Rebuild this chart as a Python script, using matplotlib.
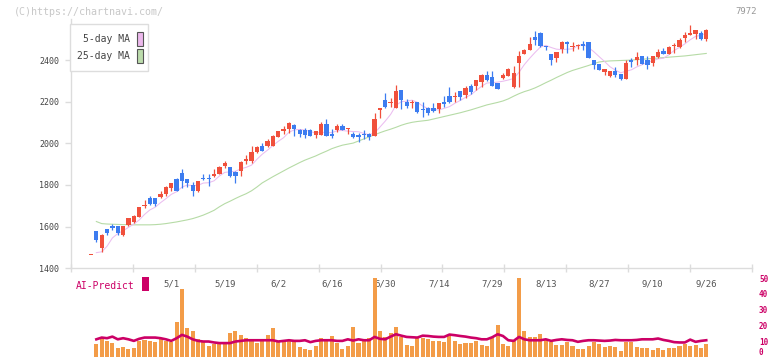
import numpy as np
import pandas as pd
import matplotlib
matplotlib.use("Agg")
import matplotlib.pyplot as plt
from matplotlib.patches import Rectangle

plt.rcParams['font.family'] = ['DejaVu Sans Mono', 'DejaVu Sans']

# ---------------- data ----------------
opens = [1465, 1576, 1495, 1586, 1603, 1600, 1557, 1608, 1624, 1645,
         1698, 1735, 1735, 1741, 1756, 1785, 1828, 1860, 1831, 1802,
         1769, 1836, 1836, 1841, 1855, 1891, 1889, 1865, 1866, 1918,
         1915, 1957, 1990, 1986, 1986, 2029, 2061, 2071, 2087, 2067,
         2066, 2066, 2042, 2042, 2096, 2047, 2063, 2082, 2071, 2048,
         2039, 2045, 2048, 2035, 2161, 2208, 2196, 2173, 2260, 2198,
         2196, 2198, 2165, 2171, 2171, 2164, 2202, 2231, 2222, 2255,
         2236, 2277, 2278, 2296, 2328, 2320, 2292, 2315, 2325, 2271,
         2387, 2432, 2452, 2511, 2531, 2472, 2429, 2411, 2455, 2488,
         2464, 2469, 2480, 2487, 2400, 2385, 2344, 2324, 2348, 2337,
         2313, 2402, 2400, 2421, 2400, 2389, 2417, 2448, 2433, 2469,
         2465, 2507, 2525, 2527, 2531, 2506]
highs = [1465, 1576, 1566, 1589, 1611, 1600, 1600, 1643, 1656, 1692,
         1729, 1748, 1735, 1772, 1793, 1809, 1833, 1879, 1831, 1815,
         1820, 1855, 1854, 1878, 1893, 1918, 1889, 1868, 1917, 1945,
         1987, 1990, 2001, 2023, 2043, 2058, 2083, 2106, 2093, 2071,
         2074, 2071, 2058, 2103, 2119, 2071, 2092, 2092, 2077, 2054,
         2050, 2063, 2051, 2146, 2169, 2244, 2218, 2283, 2260, 2215,
         2209, 2198, 2199, 2176, 2196, 2193, 2228, 2270, 2246, 2255,
         2278, 2285, 2308, 2336, 2347, 2347, 2292, 2339, 2363, 2375,
         2447, 2456, 2511, 2540, 2536, 2472, 2429, 2439, 2495, 2495,
         2488, 2480, 2493, 2487, 2403, 2385, 2361, 2348, 2370, 2337,
         2403, 2414, 2443, 2421, 2422, 2422, 2457, 2462, 2472, 2485,
         2510, 2539, 2573, 2549, 2544, 2554]
lows = [1465, 1523, 1475, 1561, 1584, 1558, 1553, 1601, 1618, 1645,
        1688, 1705, 1701, 1736, 1749, 1773, 1773, 1785, 1790, 1749,
        1765, 1822, 1793, 1838, 1851, 1881, 1837, 1809, 1842, 1900,
        1907, 1953, 1966, 1982, 1986, 2029, 2047, 2052, 2035, 2030,
        2027, 2035, 2027, 2042, 2038, 2026, 2054, 2063, 2047, 2026,
        2006, 2023, 2016, 2035, 2125, 2169, 2175, 2170, 2166, 2171,
        2171, 2146, 2127, 2137, 2151, 2145, 2175, 2196, 2200, 2212,
        2219, 2239, 2260, 2270, 2302, 2275, 2265, 2312, 2325, 2266,
        2271, 2429, 2452, 2477, 2467, 2453, 2377, 2392, 2434, 2437,
        2448, 2456, 2453, 2411, 2358, 2353, 2329, 2319, 2319, 2308,
        2313, 2368, 2376, 2382, 2359, 2373, 2412, 2429, 2433, 2438,
        2462, 2487, 2525, 2503, 2500, 2493]
closes = [1465, 1533, 1561, 1571, 1594, 1571, 1600, 1643, 1650, 1692,
          1705, 1709, 1709, 1759, 1788, 1809, 1773, 1820, 1809, 1773,
          1817, 1828, 1828, 1855, 1889, 1904, 1842, 1842, 1913, 1924,
          1957, 1981, 1966, 2013, 2034, 2058, 2069, 2098, 2069, 2045,
          2042, 2035, 2058, 2092, 2038, 2038, 2082, 2063, 2077, 2029,
          2032, 2042, 2032, 2120, 2169, 2177, 2202, 2251, 2209, 2180,
          2202, 2151, 2160, 2149, 2156, 2193, 2188, 2202, 2229, 2224,
          2268, 2250, 2308, 2328, 2304, 2275, 2265, 2328, 2358, 2340,
          2424, 2452, 2480, 2498, 2471, 2464, 2401, 2439, 2488, 2480,
          2472, 2477, 2472, 2411, 2378, 2353, 2361, 2348, 2329, 2313,
          2390, 2395, 2418, 2382, 2376, 2422, 2441, 2433, 2467, 2477,
          2500, 2524, 2531, 2549, 2503, 2549]

# first values of the 5-day MA (earlier closes are not on the chart)
ma5_head = [np.nan, 1474, 1478, 1505]

ma25 = [np.nan, 1624, 1614, 1612, 1611, 1610, 1609, 1609, 1608, 1608,
        1608, 1608, 1609, 1611, 1614, 1618, 1622, 1627, 1632, 1638,
        1646, 1655, 1666, 1678, 1695, 1710, 1722, 1735, 1747, 1758,
        1772, 1790, 1810, 1825, 1840, 1854, 1868, 1882, 1895, 1908,
        1920, 1930, 1940, 1952, 1963, 1975, 1984, 1992, 1997, 2002,
        2012, 2022, 2032, 2042, 2052, 2061, 2069, 2078, 2088, 2096,
        2102, 2106, 2109, 2112, 2118, 2124, 2130, 2136, 2142, 2148,
        2155, 2162, 2170, 2178, 2186, 2192, 2198, 2205, 2215, 2228,
        2240, 2250, 2258, 2268, 2280, 2293, 2305, 2318, 2330, 2342,
        2352, 2360, 2368, 2376, 2385, 2393, 2396, 2398, 2399, 2400,
        2401, 2402, 2404, 2406, 2408, 2410, 2412, 2414, 2416, 2418,
        2420, 2422, 2425, 2428, 2431, 2434]

volume = [np.nan, 8.1, 11.2, 10.2, 8.8, 5.6, 6.2, 5.0, 5.6, 10.2,
          11.0, 10.2, 9.6, 11.2, 10.2, 9.2, 22.1, 43.1, 18.1, 16.2,
          11.2, 10.2, 7.1, 8.1, 8.1, 8.8, 15.0, 16.2, 13.8, 11.9,
          10.2, 8.8, 10.2, 13.8, 18.1, 10.2, 10.2, 10.2, 9.6, 6.2,
          5.0, 4.4, 6.9, 11.9, 10.6, 13.1, 8.8, 5.0, 6.9, 18.8,
          8.8, 10.0, 11.9, 50.0, 16.2, 12.5, 15.0, 18.8, 12.5, 7.5,
          6.9, 11.9, 11.9, 11.2, 10.0, 10.0, 9.4, 13.1, 10.0, 8.1,
          8.8, 8.8, 10.0, 7.5, 6.9, 12.5, 20.0, 8.1, 6.9, 10.6,
          50.0, 16.2, 12.5, 12.5, 14.4, 11.0, 9.6, 7.5, 7.5, 9.6,
          7.1, 5.0, 5.0, 7.1, 9.2, 8.1, 6.5, 7.1, 6.5, 3.9,
          9.6, 9.6, 6.5, 5.8, 5.8, 4.6, 5.8, 4.6, 5.8, 5.8,
          7.1, 8.5, 7.1, 7.7, 5.8, 8.1]

ai_predict = [np.nan, 11.2, 12.3, 11.9, 12.9, 11.2, 11.9, 11.2, 10.2, 11.5,
              12.3, 12.3, 12.3, 11.9, 11.2, 10.2, 11.9, 14.0, 12.9, 11.2,
              10.2, 9.8, 9.8, 9.2, 8.8, 8.8, 8.8, 9.8, 10.2, 10.6,
              10.6, 10.6, 10.6, 10.6, 10.6, 9.8, 10.2, 10.6, 10.2, 10.2,
              10.6, 9.4, 10.2, 10.6, 10.6, 10.6, 10.2, 10.2, 11.2, 10.4,
              11.2, 10.6, 10.6, 12.7, 11.5, 11.2, 12.9, 14.4, 13.5, 12.7,
              12.5, 12.3, 13.5, 13.3, 12.9, 12.7, 12.7, 14.2, 13.8, 13.3,
              12.9, 12.3, 11.9, 11.2, 11.2, 12.5, 14.4, 13.3, 10.6, 10.2,
              12.7, 11.2, 10.6, 10.6, 10.6, 11.2, 10.2, 10.8, 11.2, 10.8,
              10.6, 9.6, 10.2, 10.6, 10.6, 10.4, 10.2, 10.4, 10.8, 10.6,
              10.6, 10.6, 10.8, 11.2, 11.2, 11.2, 11.7, 10.8, 10.2, 9.4,
              9.2, 9.2, 11.0, 9.6, 10.2, 10.6]

date_labels = ['5/1', '5/19', '6/2', '6/16', '6/30', '7/14', '7/29',
               '8/13', '8/27', '9/10', '9/26']
date_label_pos = [15, 25, 35, 45, 55, 65, 75, 85, 95, 105, 115]
price_ticks = [1400, 1600, 1800, 2000, 2200, 2400]
vol_ticks = [0, 10, 20, 30, 40, 50]

# ---------------- layout helpers ----------------
W, H = 772, 361
def fx(x): return x / W
def fy(y): return 1 - y / H

n = len(closes)
idx = np.arange(n)
o = np.array(opens, float); c = np.array(closes, float)
hi = np.array(highs, float); lo = np.array(lows, float)

ma5 = pd.Series(c).rolling(5).mean().to_numpy()
ma5[:len(ma5_head)] = ma5_head

UP = '#f0503c'
DOWN = '#3c7cf0'
GRID = '#dcdcdc'
AI = '#cc0066'

fig = plt.figure(figsize=(W / 100, H / 100), dpi=100)
fig.patch.set_facecolor('white')

xl0 = (71 - 91) / 5.35
xl1 = (752 - 91) / 5.35

ax = fig.add_axes([fx(71), fy(268), fx(752) - fx(71), fy(19) - fy(268)])
ax.set_xlim(xl0, xl1)
ax.set_ylim(1400, 2600)
for s in ['top', 'right']:
    ax.spines[s].set_visible(False)
for s in ['left', 'bottom']:
    ax.spines[s].set_color(GRID)
    ax.spines[s].set_linewidth(1.0)

ax.set_yticks(price_ticks)
ax.set_yticklabels([str(v) for v in price_ticks])
ax.tick_params(axis='y', direction='out', length=4.5, width=1, color=GRID,
               labelsize=6, labelcolor='#444444', pad=4)
ax.set_xticks(date_label_pos)
ax.set_xticklabels(date_labels)
ax.tick_params(axis='x', which='major', length=0, labelsize=6.5,
               labelcolor='#555555', pad=8)
ax.set_xticks(np.linspace(xl0, xl1, 12), minor=True)
ax.tick_params(axis='x', which='minor', direction='inout', length=6,
               width=1, color=GRID)

# moving averages
ax.plot(idx, ma25, color='#b6dba6', lw=0.8, zorder=2)
ax.plot(idx, ma5, color='#ebbdf0', lw=0.75, zorder=2)

# candles
up = c >= o
cols = np.where(up, UP, DOWN)
body_lo = np.minimum(o, c)
body_h = np.maximum(np.abs(c - o), 3.5)
ax.vlines(idx, lo, hi, colors=cols, lw=0.9, zorder=3)
ax.bar(idx, body_h, bottom=body_lo, width=0.8, color=cols, lw=0, zorder=4)

# volume panel
axv = fig.add_axes([fx(71), fy(357), fx(752) - fx(71), fy(278) - fy(357)])
axv.patch.set_alpha(0)
axv.set_xlim(xl0, xl1)
axv.set_ylim(0, 50)
for s in axv.spines.values():
    s.set_visible(False)
axv.set_xticks([])
axv.yaxis.tick_right()
axv.set_yticks(vol_ticks)
axv.set_yticklabels([str(v) for v in vol_ticks])
axv.tick_params(axis='y', length=0, labelsize=5.5, labelcolor=AI, pad=5)
for t in axv.get_yticklabels():
    t.set_fontweight('bold')
axv.get_yticklabels()[0].set_va('bottom')
axv.bar(idx, volume, width=0.75, color='#f39c48', lw=0, zorder=2)
axv.plot(idx, ai_predict, color=AI, lw=1.9, zorder=3)

# texts
fig.text(fx(14), fy(12), '(C)https://chartnavi.com/', fontsize=7.2,
         color='#c8c8c8', va='center', ha='left')
fig.text(fx(757), fy(12), '7972', fontsize=6.5, color='#999999',
         va='center', ha='right')
fig.text(fx(76), fy(286), 'AI-Predict', fontsize=7, color=AI,
         va='center', ha='left')
fig.patches.append(Rectangle((fx(142), fy(291)), fx(149) - fx(142),
                             fy(277) - fy(291), transform=fig.transFigure,
                             facecolor=AI, edgecolor='none', zorder=6))

# legend box
fig.patches.append(Rectangle((fx(70), fy(71)), fx(148) - fx(70),
                             fy(24) - fy(71), transform=fig.transFigure,
                             facecolor='white', edgecolor='#dddddd',
                             lw=1, zorder=5))
for label, yc, col in [('5-day MA', 39, '#ecb8ec'), ('25-day MA', 56, '#bcdcac')]:
    fig.text(fx(130), fy(yc), label, fontsize=7, color='#444444',
             va='center', ha='right', zorder=6)
    fig.patches.append(Rectangle((fx(137), fy(yc + 7)), fx(143) - fx(137),
                                 fy(yc - 7) - fy(yc + 7),
                                 transform=fig.transFigure, facecolor=col,
                                 edgecolor='#555555', lw=0.8, zorder=6))

fig.savefig('out.png', dpi=100)
